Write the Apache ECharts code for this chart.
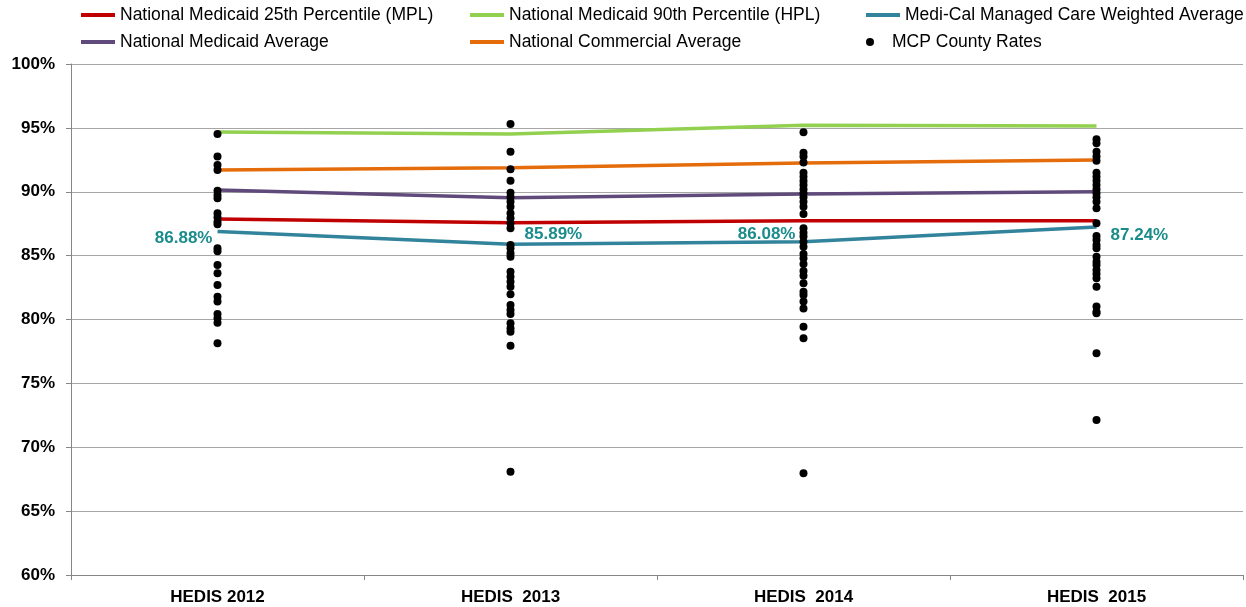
<!DOCTYPE html>
<html>
<head>
<meta charset="utf-8">
<script src="https://cdn.jsdelivr.net/npm/echarts@6/dist/echarts.min.js"></script>
<style>html,body{margin:0;padding:0;background:#fff}#c{width:1246px;height:607px}</style>
</head>
<body>
<div id="c"></div>
<script>
const categories = ['HEDIS 2012', 'HEDIS  2013', 'HEDIS  2014', 'HEDIS  2015'];
const yTicks = [60, 65, 70, 75, 80, 85, 90, 95, 100];
const mpl = [87.87, 87.58, 87.73, 87.73];
const hpl = [94.68, 94.52, 95.20, 95.15];
const mcWeighted = [86.88, 85.89, 86.08, 87.24];
const medicaidAvg = [90.14, 89.53, 89.82, 90.00];
const commercialAvg = [91.70, 91.88, 92.25, 92.49];
const county2012 = [94.52, 92.75, 92.09, 91.70, 90.08, 89.75, 89.49, 88.31, 88.00, 87.66, 87.45, 85.57, 85.35, 84.27, 83.62, 82.70, 81.79, 81.40, 80.43, 80.09, 79.75, 78.14];
const county2013 = [95.30, 93.14, 91.76, 90.87, 89.93, 89.56, 89.22, 88.83, 88.31, 87.92, 87.53, 87.14, 85.83, 85.57, 85.18, 84.92, 83.74, 83.35, 82.96, 82.57, 81.97, 81.14, 80.74, 80.43, 79.70, 79.31, 79.05, 77.95, 68.09];
const county2014 = [94.65, 93.06, 92.75, 92.28, 91.49, 91.18, 90.84, 90.53, 90.19, 89.88, 89.56, 89.22, 88.83, 88.26, 87.14, 86.80, 86.49, 86.09, 85.70, 85.13, 84.79, 84.34, 83.80, 83.43, 82.83, 82.18, 81.92, 81.40, 80.87, 79.44, 78.53, 67.96];
const county2015 = [94.10, 93.79, 93.14, 92.75, 92.43, 91.49, 91.18, 90.87, 90.53, 90.19, 89.88, 89.56, 89.22, 88.70, 87.53, 86.54, 86.22, 85.83, 85.57, 84.92, 84.53, 84.27, 83.87, 83.56, 83.22, 82.57, 81.01, 80.61, 80.48, 77.35, 72.13];

const names = {
  mpl: 'National Medicaid 25th Percentile (MPL)',
  hpl: 'National Medicaid 90th Percentile (HPL)',
  mc: 'Medi-Cal Managed Care Weighted Average',
  avg: 'National Medicaid Average',
  com: 'National Commercial Average',
  cty: 'MCP County Rates'
};
const colors = {mpl:'#c00000', hpl:'#92d050', mc:'#31849b', avg:'#604a7b', com:'#e46c0a', cty:'#000000'};

const countyData = [];
[county2012, county2013, county2014, county2015].forEach((arr, i) => arr.forEach(v => countyData.push([i, v])));

const labelCfg = [
  {position: 'left', offset: [0, 7]},
  {position: 'right', offset: [9, -10]},
  {position: 'left', offset: [-3, -8]},
  {position: 'right', offset: [9, 8]}
];
const mcData = mcWeighted.map((v, i) => ({
  value: v,
  label: {show: true, position: labelCfg[i].position, offset: labelCfg[i].offset}
}));

const FONT = '"Liberation Sans", Arial, sans-serif';
function lineSeries(key, data, z) {
  return {
    name: names[key], type: 'line', data: data, z: z,
    symbol: 'circle', symbolSize: 0.1, showSymbol: true,
    lineStyle: {color: colors[key], width: 3.5},
    itemStyle: {color: colors[key]},
    emphasis: {disabled: true}, silent: true, animation: false
  };
}
function legendAt(key, left, top, icon, h) {
  return {
    data: [{name: names[key], icon: icon}],
    left: left, top: top, itemWidth: 34, itemHeight: h,
    padding: 0, selectedMode: false,
    textStyle: {fontFamily: FONT, fontSize: 17.5, color: '#000'}
  };
}

const chart = echarts.init(document.getElementById('c'), null, {renderer: 'canvas'});
chart.setOption({
  animation: false,
  backgroundColor: '#fff',
  legend: [
    legendAt('mpl', 81, 6, 'rect', 4),
    legendAt('hpl', 470, 6, 'rect', 4),
    legendAt('mc', 866, 6, 'rect', 4),
    legendAt('avg', 81, 33, 'rect', 4),
    legendAt('com', 470, 33, 'rect', 4),
    legendAt('cty', 866, 33, 'circle', 8)
  ],
  grid: {left: 71, right: 3, top: 64, bottom: 32, containLabel: false},
  xAxis: {
    type: 'category', data: categories, boundaryGap: true,
    axisLine: {lineStyle: {color: '#868686', width: 1}},
    axisTick: {show: true, length: 5, lineStyle: {color: '#868686'}},
    axisLabel: {fontFamily: FONT, fontSize: 17, fontWeight: 'bold', color: '#000', margin: 14}
  },
  yAxis: {
    type: 'value', min: yTicks[0], max: yTicks[yTicks.length - 1], interval: 5,
    axisLine: {show: true, lineStyle: {color: '#868686'}},
    axisTick: {show: true, length: 5, lineStyle: {color: '#868686'}},
    splitLine: {show: true, lineStyle: {color: '#a6a6a6', width: 1}},
    axisLabel: {formatter: '{value}%', fontFamily: FONT, fontSize: 17, fontWeight: 'bold', color: '#000', margin: 16}
  },
  series: [
    {
      name: names.cty, type: 'scatter', data: countyData, z: 5,
      symbol: 'circle', symbolSize: 8, itemStyle: {color: '#000', opacity: 1},
      emphasis: {disabled: true}, silent: true
    },
    lineSeries('mpl', mpl, 3),
    lineSeries('hpl', hpl, 3),
    Object.assign(lineSeries('mc', mcData, 3), {
      label: {show: true, formatter: p => p.value.toFixed(2) + '%', fontFamily: FONT, fontSize: 17, fontWeight: 'bold', color: '#1a8c8c'}
    }),
    lineSeries('avg', medicaidAvg, 3),
    lineSeries('com', commercialAvg, 3)
  ]
});
</script>
</body>
</html>
